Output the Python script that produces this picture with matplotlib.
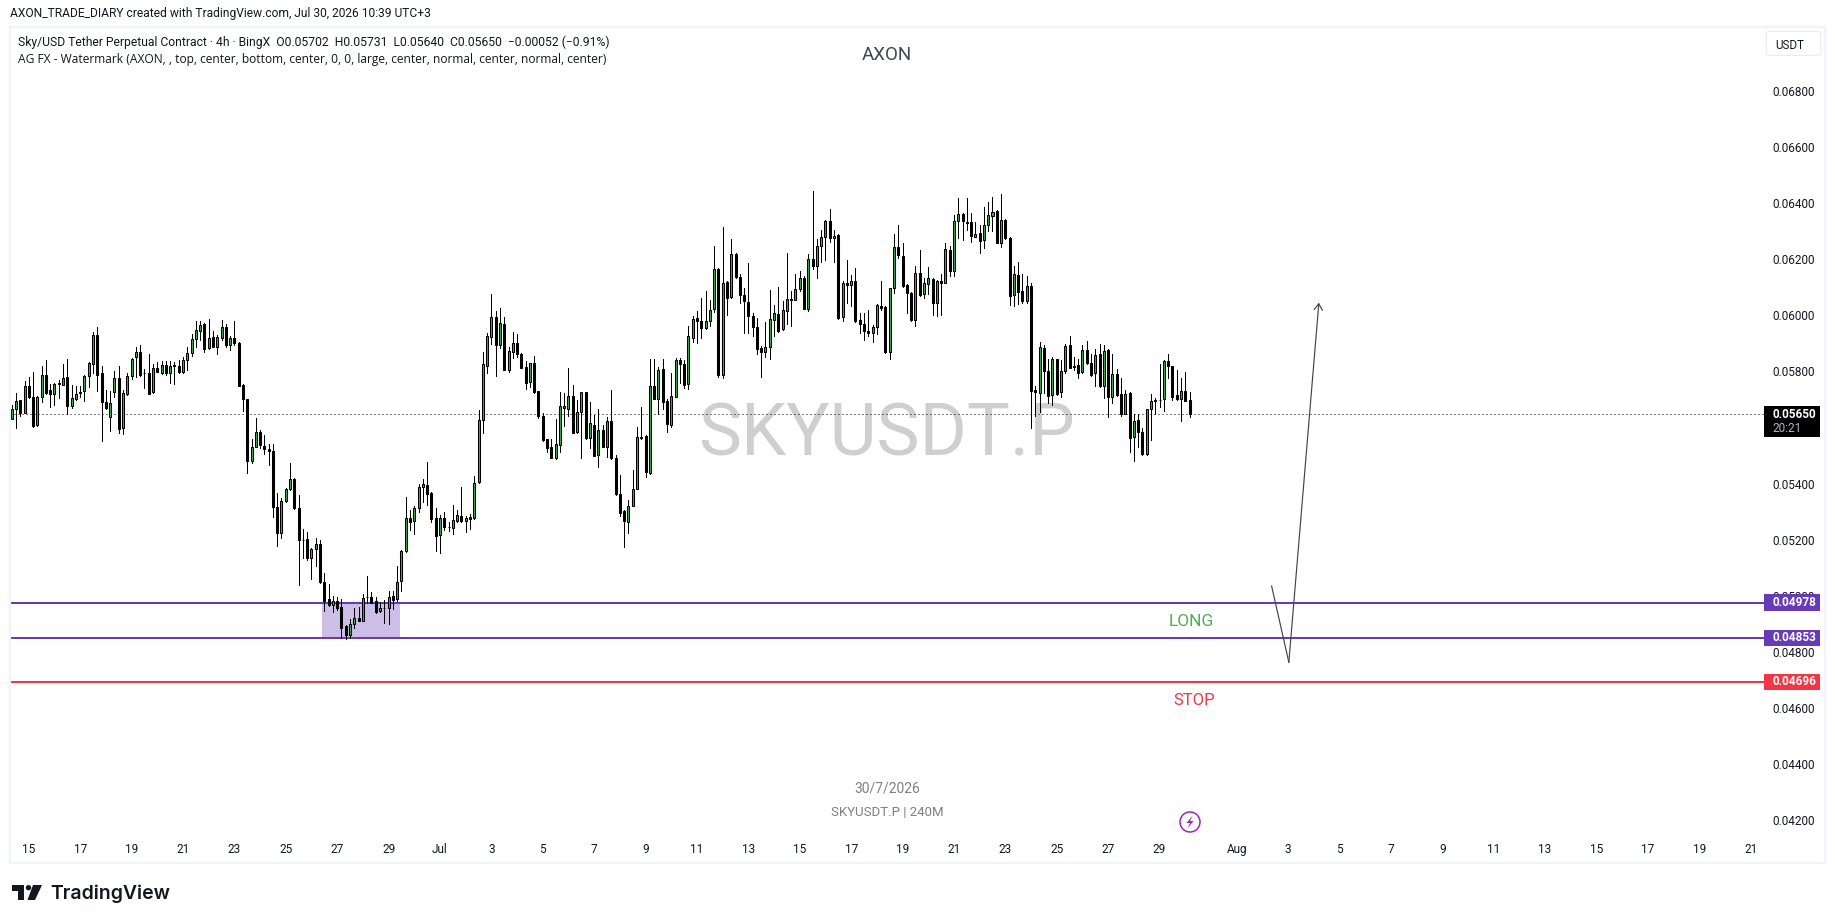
import numpy as np
import pandas as pd
import matplotlib
matplotlib.use('Agg')
import matplotlib.pyplot as plt
from matplotlib.patches import Rectangle, Polygon, Ellipse, FancyBboxPatch
from matplotlib.transforms import ScaledTranslation

plt.rcParams['font.family'] = ['Roboto', 'DejaVu Sans']

W, H = 1835, 923

# SKYUSDT.P 4h candles, price in 1e-5 USDT
opens = [5632, 5670, 5700, 5656, 5750, 5711, 5611, 5711, 5790, 5737, 5724, 5761, 5756, 5782, 5681, 5706, 5727, 5732, 5788, 5831,
         5933, 5797, 5693, 5640, 5729, 5779, 5600, 5724, 5786, 5853, 5872, 5797, 5797, 5729, 5815, 5799, 5825, 5796, 5825, 5822,
         5803, 5843, 5868, 5918, 5947, 5972, 5886, 5926, 5892, 5924, 5961, 5896, 5922, 5904, 5754, 5704, 5483, 5535, 5589, 5539,
         5528, 5521, 5321, 5226, 5340, 5384, 5421, 5317, 5201, 5206, 5139, 5170, 5188, 5052, 4992, 4972, 4984, 4963, 4896, 4865,
         4904, 4923, 4915, 4998, 4999, 4984, 4950, 4959, 4958, 5002, 4990, 5055, 5162, 5281, 5270, 5316, 5391, 5399, 5371, 5281,
         5219, 5281, 5248, 5244, 5270, 5288, 5270, 5285, 5280, 5408, 5629, 5824, 5926, 5997, 5896, 5972, 5810, 5872, 5904, 5865,
         5818, 5765, 5833, 5732, 5643, 5561, 5532, 5494, 5541, 5674, 5670, 5714, 5588, 5657, 5729, 5567, 5614, 5506, 5593, 5534,
         5625, 5496, 5367, 5304, 5266, 5323, 5384, 5567, 5572, 5441, 5750, 5706, 5811, 5697, 5613, 5713, 5843, 5829, 5757, 5924,
         5994, 5983, 5957, 5983, 6025, 6169, 5790, 6122, 6068, 6223, 6140, 6076, 6051, 6002, 5961, 5886, 5871, 5890, 5985, 6008,
         5953, 6017, 6058, 6058, 6097, 6137, 6025, 6205, 6180, 6251, 6284, 6341, 6279, 6291, 5997, 6119, 6112, 6126, 5988, 5972,
         5947, 5940, 5960, 6037, 6034, 5871, 6101, 6248, 6215, 6112, 6083, 5985, 6155, 6079, 6115, 6134, 6046, 6126, 6119, 6238,
         6161, 6341, 6363, 6337, 6337, 6282, 6298, 6273, 6326, 6359, 6377, 6262, 6344, 6280, 6075, 6147, 6090, 6053, 6108, 5736,
         5728, 5886, 5804, 5718, 5847, 5729, 5804, 5897, 5822, 5825, 5800, 5879, 5832, 5796, 5865, 5753, 5879, 5713, 5793, 5722,
         5652, 5725, 5570, 5629, 5589, 5509, 5670, 5699, 5701, 5704, 5840, 5822, 5718, 5704, 5732, 5702]
highs = [5683, 5725, 5701, 5769, 5782, 5802, 5716, 5823, 5845, 5759, 5761, 5773, 5829, 5847, 5755, 5751, 5751, 5791, 5837, 5945,
         5961, 5823, 5737, 5732, 5805, 5823, 5737, 5797, 5852, 5892, 5897, 5811, 5866, 5829, 5836, 5840, 5841, 5841, 5836, 5845,
         5854, 5892, 5938, 5983, 5983, 5975, 5990, 5947, 5933, 5988, 5973, 5930, 5983, 5907, 5757, 5705, 5561, 5637, 5593, 5576,
         5546, 5546, 5370, 5351, 5388, 5475, 5423, 5361, 5243, 5229, 5174, 5209, 5203, 5085, 5045, 5003, 5000, 4992, 4898, 4921,
         4959, 4964, 5008, 5075, 5018, 4998, 4982, 4987, 5021, 5019, 5111, 5167, 5354, 5308, 5322, 5403, 5419, 5479, 5372, 5315,
         5290, 5301, 5266, 5326, 5310, 5390, 5286, 5296, 5432, 5666, 5873, 5942, 6081, 6019, 6029, 5997, 5890, 5945, 5936, 5868,
         5839, 5835, 5858, 5735, 5654, 5564, 5561, 5633, 5730, 5725, 5815, 5754, 5701, 5730, 5731, 5694, 5649, 5668, 5614, 5639,
         5737, 5504, 5433, 5308, 5346, 5451, 5605, 5676, 5576, 5847, 5848, 5818, 5848, 5704, 5797, 5850, 5850, 5843, 5965, 6002,
         6020, 6065, 6091, 6057, 6252, 6171, 6317, 6125, 6276, 6226, 6149, 6100, 6190, 6012, 5994, 5895, 5979, 6095, 6041, 6105,
         6053, 6227, 6089, 6151, 6163, 6142, 6223, 6445, 6276, 6307, 6344, 6381, 6309, 6294, 6124, 6202, 6147, 6173, 6012, 6012,
         6022, 5969, 6044, 6126, 6035, 6102, 6293, 6326, 6262, 6116, 6085, 6181, 6238, 6136, 6176, 6137, 6131, 6151, 6262, 6252,
         6362, 6421, 6368, 6421, 6369, 6335, 6326, 6391, 6409, 6427, 6380, 6437, 6348, 6284, 6180, 6194, 6151, 6144, 6120, 5751,
         5908, 5896, 5847, 5854, 5849, 5843, 5901, 5930, 5855, 5847, 5897, 5911, 5866, 5883, 5901, 5897, 5883, 5865, 5811, 5779,
         5738, 5729, 5650, 5650, 5603, 5670, 5722, 5708, 5828, 5844, 5865, 5824, 5807, 5779, 5801, 5731]
lows = [5632, 5602, 5645, 5654, 5710, 5605, 5608, 5695, 5722, 5677, 5682, 5710, 5755, 5650, 5674, 5701, 5713, 5699, 5749, 5797,
        5735, 5556, 5669, 5592, 5713, 5582, 5581, 5719, 5778, 5785, 5787, 5744, 5722, 5726, 5800, 5794, 5792, 5762, 5759, 5798,
        5798, 5809, 5858, 5892, 5914, 5871, 5885, 5891, 5867, 5914, 5889, 5878, 5899, 5750, 5663, 5441, 5475, 5533, 5529, 5508,
        5469, 5284, 5179, 5211, 5336, 5382, 5314, 5043, 5139, 5132, 5062, 5111, 5049, 4950, 4968, 4946, 4953, 4853, 4850, 4852,
        4888, 4912, 4914, 4978, 4976, 4943, 4946, 4907, 4904, 4956, 4986, 5021, 5158, 5237, 5222, 5302, 5336, 5326, 5265, 5164,
        5155, 5238, 5234, 5225, 5265, 5265, 5232, 5243, 5278, 5405, 5584, 5798, 5902, 5787, 5887, 5809, 5803, 5850, 5855, 5816,
        5742, 5748, 5728, 5636, 5555, 5515, 5494, 5491, 5515, 5608, 5645, 5583, 5582, 5494, 5564, 5530, 5501, 5462, 5532, 5497,
        5490, 5361, 5286, 5176, 5226, 5322, 5383, 5563, 5427, 5439, 5705, 5650, 5669, 5586, 5606, 5711, 5761, 5744, 5741, 5907,
        5904, 5924, 5953, 5964, 6015, 5785, 5781, 6003, 6064, 6137, 6046, 5939, 5940, 5930, 5867, 5785, 5856, 5846, 5930, 5944,
        5951, 5972, 5966, 6057, 6089, 6025, 6020, 6169, 6136, 6192, 6199, 6264, 6193, 5992, 5982, 6048, 6038, 5980, 5939, 5914,
        5928, 5907, 5938, 6023, 5868, 5849, 6084, 6207, 6106, 6013, 5984, 5964, 6074, 6064, 6081, 6003, 6000, 6003, 6118, 6142,
        6145, 6278, 6272, 6307, 6266, 6281, 6225, 6243, 6304, 6305, 6260, 6247, 6276, 6041, 6035, 6045, 6048, 6046, 5601, 5645,
        5658, 5725, 5692, 5683, 5720, 5713, 5796, 5815, 5810, 5781, 5798, 5830, 5788, 5751, 5749, 5710, 5642, 5692, 5717, 5646,
        5650, 5515, 5484, 5532, 5506, 5507, 5559, 5650, 5677, 5663, 5780, 5701, 5700, 5627, 5697, 5640]
closes = [5669, 5699, 5656, 5750, 5712, 5608, 5711, 5790, 5726, 5724, 5757, 5760, 5779, 5681, 5707, 5722, 5729, 5786, 5833, 5933,
          5792, 5693, 5673, 5692, 5779, 5599, 5725, 5786, 5849, 5872, 5791, 5796, 5724, 5815, 5803, 5825, 5796, 5822, 5822, 5800,
          5843, 5868, 5918, 5951, 5969, 5885, 5922, 5892, 5926, 5961, 5896, 5922, 5903, 5753, 5706, 5483, 5535, 5589, 5540, 5526,
          5520, 5320, 5226, 5342, 5385, 5421, 5316, 5201, 5202, 5139, 5170, 5188, 5054, 4986, 4970, 4984, 4960, 4890, 4864, 4902,
          4923, 4914, 4995, 4999, 4978, 4946, 4959, 4958, 4999, 4988, 5052, 5163, 5281, 5268, 5317, 5392, 5403, 5366, 5277, 5218,
          5281, 5247, 5247, 5274, 5292, 5270, 5281, 5277, 5407, 5629, 5829, 5929, 5997, 5897, 5976, 5810, 5875, 5904, 5864, 5817,
          5763, 5833, 5731, 5645, 5558, 5531, 5495, 5543, 5679, 5680, 5714, 5584, 5657, 5729, 5567, 5618, 5502, 5593, 5534, 5625,
          5494, 5365, 5298, 5269, 5324, 5385, 5569, 5569, 5445, 5750, 5706, 5807, 5695, 5617, 5714, 5843, 5828, 5756, 5929, 5990,
          5982, 5957, 5983, 6022, 6169, 5792, 6119, 6064, 6223, 6139, 6075, 6053, 6000, 5960, 5885, 5871, 5890, 5990, 6012, 5948,
          6022, 6062, 6062, 6097, 6137, 6027, 6205, 6179, 6251, 6284, 6341, 6279, 6287, 5995, 6119, 6112, 6126, 5983, 5972, 5946,
          5939, 5961, 6040, 6031, 5874, 6101, 6248, 6218, 6109, 6083, 5985, 6155, 6077, 6119, 6137, 6046, 6126, 6119, 6241, 6161,
          6341, 6366, 6341, 6334, 6287, 6294, 6268, 6326, 6362, 6373, 6262, 6344, 6278, 6072, 6151, 6085, 6053, 6108, 5735, 5731,
          5890, 5804, 5717, 5847, 5723, 5804, 5893, 5817, 5819, 5799, 5879, 5832, 5792, 5861, 5753, 5876, 5713, 5793, 5720, 5652,
          5722, 5567, 5625, 5588, 5509, 5668, 5697, 5700, 5703, 5840, 5822, 5713, 5706, 5732, 5699, 5650]

n_candles = len(opens)

last_candle = pd.Timestamp('2026-07-30 04:00')
candle_times = pd.date_range(end=last_candle, periods=n_candles, freq='4h')

x_tick_dates = ['2026-06-15', '2026-06-17', '2026-06-19', '2026-06-21', '2026-06-23', '2026-06-25', '2026-06-27',
                '2026-06-29', '2026-07-01', '2026-07-03', '2026-07-05', '2026-07-07', '2026-07-09', '2026-07-11',
                '2026-07-13', '2026-07-15', '2026-07-17', '2026-07-19', '2026-07-21', '2026-07-23', '2026-07-25',
                '2026-07-27', '2026-07-29', '2026-08-01', '2026-08-03', '2026-08-05', '2026-08-07', '2026-08-09',
                '2026-08-11', '2026-08-13', '2026-08-15', '2026-08-17', '2026-08-19', '2026-08-21']
x_tick_labels = ['15', '17', '19', '21', '23', '25', '27', '29', 'Jul', '3', '5', '7', '9', '11', '13', '15', '17', '19',
                 '21', '23', '25', '27', '29', 'Aug', '3', '5', '7', '9', '11', '13', '15', '17', '19', '21']
# 0.056 sits behind the last price tag, so no label for it
y_ticks = [0.042, 0.044, 0.046, 0.048, 0.050, 0.052, 0.054, 0.058, 0.060, 0.062, 0.064, 0.066, 0.068]

last_price = 0.05650
long_top = 0.04978
long_bottom = 0.04853
stop_price = 0.04696

zone_times = ['2026-06-26 10:00', '2026-06-29 10:30']
path_times = ['2026-08-02 08:40', '2026-08-03 00:45', '2026-08-04 04:48']
path_prices = [0.050381, 0.047660, 0.060484]

UP = '#3fa84f'
PURPLE = '#673ab7'
RED = '#f23645'
DARK = '#131722'
Y_MIN, Y_MAX = 0.040502, 0.070316

o = np.array(opens) / 1e5
h = np.array(highs) / 1e5
l = np.array(lows) / 1e5
c = np.array(closes) / 1e5


def fx(px):
    return px / W


def fy(py):
    return 1 - py / H


fig = plt.figure(figsize=(W / 100, H / 100), dpi=100, facecolor='white')

# outer frame of the chart pane
fig.add_artist(Rectangle((fx(10), fy(863)), fx(1815), 836 / H, fill=False, ec='#f0f3fa', lw=1.6,
                         transform=fig.transFigure))

ax = fig.add_axes([fx(10), fy(863), 1754 / W, 836 / H])
ax.set_facecolor('none')
for s in ax.spines.values():
    s.set_visible(False)

ax.set_xlim(pd.Timestamp('2026-06-14 06:27'), pd.Timestamp('2026-08-21 12:30'))
ax.set_ylim(Y_MIN, Y_MAX)
px_price = (Y_MAX - Y_MIN) / 836

ax.text(pd.Timestamp('2026-07-18 09:00'), 0.05574, 'SKYUSDT.P', fontsize=52, color='#cfcfcf', ha='center',
        va='center', zorder=0.5)

ax.axhline(last_price, color='black', lw=0.72, ls=(0, (1, 3)), zorder=1)
ax.axhline(long_top, color=PURPLE, lw=1.45, zorder=1.2)
ax.axhline(long_bottom, color=PURPLE, lw=1.45, zorder=1.2)
ax.axhline(stop_price, color=RED, lw=1.45, zorder=1.2)

zone_start, zone_end = pd.to_datetime(zone_times)
ax.fill_between([zone_start, zone_end], long_bottom, long_top, color=PURPLE, alpha=0.33, lw=0, zorder=1.5)

# candles
up = c >= o
ax.vlines(candle_times, l, h, color='black', lw=0.72, antialiased=False, zorder=3)
ax.bar(candle_times, np.abs(c - o), bottom=np.minimum(o, c), width=0.078,
       color=np.where(up, UP, 'black'), edgecolor='black', linewidth=0.75, zorder=3.2)

# the hand drawn path
path_x = pd.to_datetime(path_times)
ax.plot(path_x[:2], path_prices[:2], color='#444444', lw=0.85, zorder=4)
ax.annotate('', xy=(path_x[2], path_prices[2]), xytext=(path_x[1], path_prices[1]),
            arrowprops=dict(arrowstyle='->,head_length=0.45,head_width=0.3', color='#444444', lw=0.85,
                            shrinkA=0, shrinkB=0), zorder=4)

ax.text(pd.Timestamp('2026-07-30 06:00'), 0.04912, 'LONG', color='#4caf50', fontsize=12.5, ha='center',
        va='center', zorder=4)
ax.text(pd.Timestamp('2026-07-30 08:00'), 0.04628, 'STOP', color=RED, fontsize=12, ha='center', va='center',
        zorder=4)

# axis labels
ax.set_yticks(y_ticks)
ax.set_yticklabels(['%.5f' % v for v in y_ticks], fontsize=8.5, color=DARK)
ax.yaxis.tick_right()
ax.tick_params(axis='y', length=0, pad=5.8)
label_shift = ScaledTranslation(0, 1 / 100, fig.dpi_scale_trans)
for lab in ax.get_yticklabels():
    lab.set_transform(lab.get_transform() + label_shift)
ax.set_xticks(pd.to_datetime(x_tick_dates))
ax.set_xticklabels(x_tick_labels, fontsize=8.5, color=DARK)
ax.tick_params(axis='x', length=0, pad=-14.3)

# price tags on the right
ytr = ax.get_yaxis_transform()
tag_w = 56 / 1754
tag_h = 16.7 * px_price
for price, col in [(long_top, PURPLE), (long_bottom, PURPLE), (stop_price, RED)]:
    ax.add_patch(Rectangle((1, price - tag_h / 2), tag_w, tag_h, transform=ytr, fc=col, ec='none',
                           clip_on=False, zorder=6))
    ax.text(1 + 8 / 1754, price, '%.5f' % price, transform=ytr, color='white', fontsize=8.5, fontweight='bold',
            va='center', ha='left', clip_on=False, zorder=7)
ax.add_patch(Rectangle((1, last_price - 22.4 * px_price), tag_w, 30.7 * px_price, transform=ytr, fc='black',
                       ec='none', clip_on=False, zorder=6))
ax.text(1 + 8 / 1754, last_price, '%.5f' % last_price, transform=ytr, color='white', fontsize=8.5,
        fontweight='bold', va='center', ha='left', clip_on=False, zorder=7)
ax.text(1 + 8 / 1754, last_price - 14.4 * px_price, '20:21', transform=ytr, color='#b2b5be',
        fontsize=8.5, va='center', ha='left', clip_on=False, zorder=7)

# header
fig.text(fx(10), fy(14), 'AXON_TRADE_DIARY created with TradingView.com, Jul 30, 2026 10:39 UTC+3', fontsize=8.65,
         color=DARK, va='center', ha='left')
fig.text(fx(18), fy(42), 'Sky/USD Tether Perpetual Contract · 4h · BingX  O0.05702  H0.05731  L0.05640  C0.05650  '
         '\u22120.00052 (\u22120.91%)', fontsize=8.7, color=DARK, va='center', ha='left')
fig.text(fx(18), fy(59.5), 'AG FX - Watermark (AXON, , top, center, bottom, center, 0, 0, large, center, normal, '
         'center, normal, center)', fontsize=8.62, family=['Open Sans', 'DejaVu Sans'], color=DARK, va='center',
         ha='left')
fig.text(fx(887), fy(55), 'AXON', fontsize=13.5, color='#434651', va='center', ha='center')
fig.text(fx(886.7), fy(788.5), '30/7/2026', fontsize=10, color='#808080', va='center', ha='center')
fig.text(fx(887), fy(813), 'SKYUSDT.P | 240M', fontsize=9.5, color='#808080', va='center', ha='center')

# currency button
fig.add_artist(FancyBboxPatch((fx(1769), fy(54)), 49 / W, 21 / H, boxstyle='round,pad=0.0015', fc='white',
                              ec='#e8eaf0', lw=0.8, transform=fig.transFigure))
fig.text(fx(1790), fy(45.7), 'USDT', fontsize=8.4, color=DARK, va='center', ha='center')

# lightning badge
fig.add_artist(Ellipse((fx(1190), fy(822)), 20 / W, 20 / H, fc='white', ec='#9c27b0', lw=1.1,
                       transform=fig.transFigure, zorder=8))
bolt = [(1192.5, 815.5), (1186.5, 823), (1190, 823), (1187.5, 828.5), (1193.5, 821), (1190, 821)]
fig.add_artist(Polygon([(fx(a), fy(b)) for a, b in bolt], closed=True, fc='#9c27b0', ec='none',
                       transform=fig.transFigure, zorder=9))

# TradingView logo
logo_t = [(11.5, 885), (24, 885), (24, 900), (18, 900), (18, 890.5), (11.5, 890.5)]
logo_s = [(33, 885), (42, 885), (35, 900), (27.5, 900)]
for shape in (logo_t, logo_s):
    fig.add_artist(Polygon([(fx(a), fy(b)) for a, b in shape], closed=True, fc=DARK, ec='none',
                           transform=fig.transFigure))
fig.add_artist(Ellipse((fx(28.5), fy(887.7)), 5.4 / W, 5.4 / H, fc=DARK, ec='none', transform=fig.transFigure))
fig.text(fx(50), fy(893.5), 'TradingView', fontsize=14, fontweight='semibold', family=['Inter', 'DejaVu Sans'],
         color=DARK, va='center', ha='left')

fig.savefig('out.png', dpi=100)
